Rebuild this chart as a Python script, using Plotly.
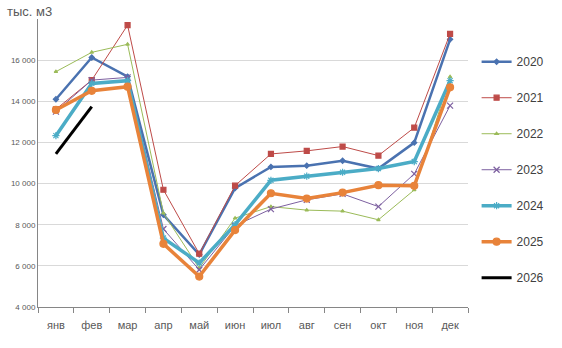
import plotly.graph_objects as go

months = ["янв", "фев", "мар", "апр", "май", "июн", "июл", "авг", "сен", "окт", "ноя", "дек"]

y2020 = [14100, 16130, 15200, 8480, 6550, 9780, 10810, 10870, 11110, 10730, 11990, 17010]
y2021 = [13610, 15030, 17700, 9700, 6590, 9900, 11440, 11590, 11800, 11360, 12720, 17280]
y2022 = [15440, 16380, 16770, 8560, 5890, 8320, 8880, 8710, 8660, 8240, 9690, 15190]
y2023 = [13500, 15030, 15160, 7790, 5810, 7950, 8760, 9210, 9500, 8880, 10470, 13790]
y2024 = [12330, 14870, 15000, 7350, 6140, 8000, 10160, 10360, 10550, 10730, 11070, 15000]
y2025 = [13580, 14510, 14710, 7070, 5480, 7740, 9530, 9270, 9560, 9920, 9890, 14680]
y2026 = [11440, 13740]

tick_vals = [4000, 6000, 8000, 10000, 12000, 14000, 16000]
tick_text = ["4 000", "6 000", "8 000", "10 000", "12 000", "14 000", "16 000"]

series = [
    ("2020", y2020, "#4A72B0", 2.5, "diamond", 4),
    ("2021", y2021, "#BE4B48", 1, "square", 5),
    ("2022", y2022, "#9BBB59", 1, "triangle-up", 3),
    ("2023", y2023, "#7D60A0", 1, "x-thin-open", 6),
    ("2024", y2024, "#4BACC6", 3.5, "asterisk-open", 6),
    ("2025", y2025, "#E8833A", 3.5, "circle", 7),
    ("2026", y2026, "#000000", 3, None, 0),
]

fig = go.Figure()
for name, ys, color, w, sym, ms in series:
    kw = dict(x=months[:len(ys)], y=ys, name=name, legendgroup=name,
              line=dict(color=color, width=w))
    if sym:
        kw["mode"] = "lines+markers"
        kw["marker"] = dict(symbol=sym, size=ms, color=color,
                            line=dict(color=color, width=1.2))
    else:
        kw["mode"] = "lines"
    fig.add_trace(go.Scatter(**kw))

fig.update_layout(
    width=562, height=348,
    margin=dict(l=38, r=89, t=19, b=41),
    paper_bgcolor="white", plot_bgcolor="white",
    font=dict(family="Liberation Sans, Arial, sans-serif", color="#595959"),
    showlegend=True,
    legend=dict(x=1.02, xanchor="left", y=0.902, yanchor="top",
                tracegroupgap=17, itemwidth=30,
                font=dict(size=12, color="#404040"), bgcolor="rgba(0,0,0,0)"),
    xaxis=dict(type="category", categoryorder="array", categoryarray=months,
               showline=True, linecolor="#868686", linewidth=1,
               ticks="outside", tickson="boundaries", ticklen=5, tickcolor="#868686",
               ticklabelstandoff=8,
               tickfont=dict(size=11, color="#595959"), showgrid=False,
               range=[-0.5, 11.5]),
    yaxis=dict(range=[4000, 18000], tickvals=tick_vals, ticktext=tick_text,
               showline=True, linecolor="#868686", linewidth=1,
               showgrid=True, gridcolor="#D9D9D9", gridwidth=1,
               tickfont=dict(size=8, color="#595959"), zeroline=False, ticks=""),
    annotations=[dict(text="тыс. м3", xref="paper", yref="paper",
                      x=-33/435, y=1 + 17/288, xanchor="left", yanchor="top",
                      showarrow=False, font=dict(size=13, color="#595959"))],
)

fig.write_html("out.html")
